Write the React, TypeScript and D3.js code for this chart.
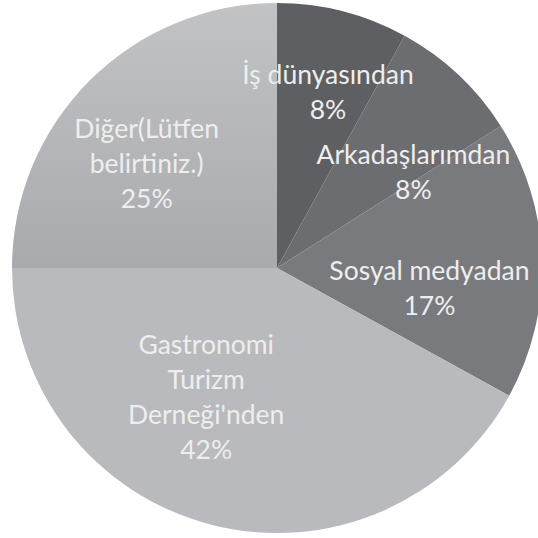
import { useEffect, useRef } from "react";
import * as d3 from "d3";

// data
const labels = [
  ["İş dünyasından"],
  ["Arkadaşlarımdan"],
  ["Sosyal medyadan"],
  ["Gastronomi", "Turizm", "Derneği'nden"],
  ["Diğer(Lütfen", "belirtiniz.)"],
];
const values = [8, 8, 17, 42, 25];
const colors = ["#5e5f62", "#6c6d70", "#797a7d", "#b9babd", "url(#digerGrad)"];
// label placement per slice: radius factor and angle nudge (deg)
const labelRadius = [0.69, 0.63, 0.58, 0.555, 0.63];
const labelNudge = [1.8, 11.6, 9.2, 14.4, -6.3];

function App() {
  const ref = useRef<SVGSVGElement>(null);

  useEffect(() => {
    const svg = d3.select(ref.current);
    svg.selectAll("*").remove();

    const width = 538;
    const height = 538;
    const cx = 277;
    const cy = 268;
    const r = 265;

    const defs = svg.append("defs");
    const grad = defs
      .append("linearGradient")
      .attr("id", "digerGrad")
      .attr("x1", 0)
      .attr("y1", 0)
      .attr("x2", 0)
      .attr("y2", 1);
    grad.append("stop").attr("offset", "0%").attr("stop-color", "#c2c3c5");
    grad.append("stop").attr("offset", "100%").attr("stop-color", "#a9aaad");

    svg.append("rect").attr("width", width).attr("height", height).attr("fill", "#ffffff");

    const g = svg.append("g").attr("transform", `translate(${cx},${cy})`);

    const pie = d3
      .pie<number>()
      .sort(null)
      .value((d) => d);
    const arcs = pie(values);
    const arc = d3.arc<d3.PieArcDatum<number>>().innerRadius(0).outerRadius(r);

    g.selectAll("path.slice")
      .data(arcs)
      .enter()
      .append("path")
      .attr("class", "slice")
      .attr("d", arc)
      .attr("fill", (d, i) => colors[i]);

    const lineH = 35;
    arcs.forEach((d, i) => {
      const lr = r * labelRadius[i];
      const mid = (d.startAngle + d.endAngle) / 2 + (labelNudge[i] * Math.PI) / 180;
      const x = Math.sin(mid) * lr;
      const y = -Math.cos(mid) * lr;
      const lines = [...labels[i], `${values[i]}%`];
      const top = y - ((lines.length - 1) * lineH) / 2;
      const t = g
        .append("text")
        .attr("text-anchor", "middle")
        .attr("fill", "#eeeeee")
        .style("font-family", "Lato, sans-serif")
        .style("font-size", "26.5px");
      lines.forEach((ln, k) => {
        t.append("tspan")
          .attr("x", x)
          .attr("y", top + k * lineH)
          .attr("dy", "0.35em")
          .text(ln);
      });
    });
  }, []);

  return (
    <svg
      ref={ref}
      width={538}
      height={538}
      style={{ position: "absolute", left: 0, top: 0 }}
    />
  );
}

export default App;
